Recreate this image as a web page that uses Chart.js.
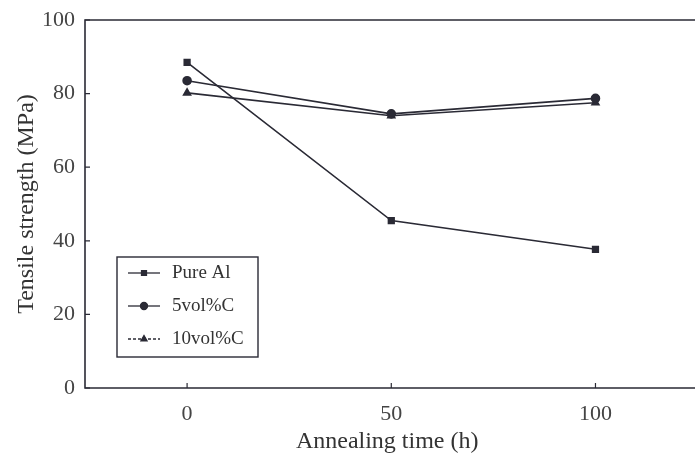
<!DOCTYPE html>
<html>
<head>
<meta charset="utf-8">
<script src="https://cdn.jsdelivr.net/npm/chart.js@4/dist/chart.umd.min.js"></script>
<style>
  html, body { margin: 0; padding: 0; background: #fff; }
  #wrap { width: 695px; height: 460px; }
</style>
</head>
<body>
<div id="wrap"><canvas id="lineChart"></canvas></div>
<script>
const times = [0, 50, 100];
const pureAl = [88.5, 45.5, 37.7];
const vol5C = [83.5, 74.5, 78.7];
const vol10C = [80.2, 74, 77.5];
const xTicks = [0, 50, 100];
const yTicks = [0, 20, 40, 60, 80, 100];

const INK = '#2a2a35';
const FONT = '"Liberation Serif", "DejaVu Serif", serif';

function pts(ys) {
  return times.map((t, i) => ({ x: t, y: ys[i] }));
}

// frame, inward tick marks and the boxed legend
const framePlugin = {
  id: 'frame',
  afterDraw(chart) {
    const ctx = chart.ctx;
    const a = chart.chartArea;
    const xs = chart.scales.x, ys = chart.scales.y;
    ctx.save();
    ctx.strokeStyle = INK;
    ctx.lineWidth = 1.6;
    ctx.beginPath();
    ctx.moveTo(chart.width, a.top);
    ctx.lineTo(a.left, a.top);
    ctx.lineTo(a.left, a.bottom);
    ctx.lineTo(chart.width, a.bottom);
    ctx.stroke();
    ctx.lineWidth = 1.2;
    ctx.beginPath();
    xTicks.forEach(v => {
      const p = xs.getPixelForValue(v);
      ctx.moveTo(p, a.bottom);
      ctx.lineTo(p, a.bottom - 5);
    });
    yTicks.forEach(v => {
      const p = ys.getPixelForValue(v);
      ctx.moveTo(a.left, p);
      ctx.lineTo(a.left + 5, p);
    });
    ctx.stroke();

    // legend
    const bx = 117, by = 257, bw = 141, bh = 100;
    ctx.lineWidth = 1.4;
    ctx.strokeRect(bx, by, bw, bh);
    ctx.font = '19px ' + FONT;
    ctx.textBaseline = 'middle';
    chart.data.datasets.forEach((ds, i) => {
      const cy = by + 16 + i * 33;
      ctx.strokeStyle = INK;
      ctx.lineWidth = 1.3;
      ctx.setLineDash(i === 2 ? [3, 2] : []);
      ctx.beginPath();
      ctx.moveTo(bx + 11, cy);
      ctx.lineTo(bx + 43, cy);
      ctx.stroke();
      ctx.setLineDash([]);
      Chart.helpers.drawPoint(ctx, {
        pointStyle: ds.pointStyle, radius: 3.5, borderWidth: 1
      }, bx + 27, cy);
      ctx.fillStyle = INK;
      ctx.fill();
      ctx.fillStyle = '#333';
      ctx.fillText(ds.label, bx + 55, cy);
    });
    ctx.restore();
  }
};

const common = {
  borderColor: INK,
  backgroundColor: INK,
  pointBorderColor: INK,
  pointBackgroundColor: INK,
  borderWidth: 1.6,
  pointRadius: 4,
  tension: 0
};

new Chart(document.getElementById('lineChart'), {
  type: 'line',
  data: {
    datasets: [
      Object.assign({ label: 'Pure Al', data: pts(pureAl), pointStyle: 'rect' }, common),
      Object.assign({ label: '5vol%C', data: pts(vol5C), pointStyle: 'circle' }, common),
      Object.assign({ label: '10vol%C', data: pts(vol10C), pointStyle: 'triangle' }, common)
    ]
  },
  options: {
    responsive: true,
    maintainAspectRatio: false,
    animation: false,
    layout: { padding: { top: 20, right: 0, left: 0, bottom: 0 } },
    plugins: { legend: { display: false }, tooltip: { enabled: false } },
    scales: {
      x: {
        type: 'linear',
        min: -25,
        max: 123,
        afterBuildTicks: s => { s.ticks = xTicks.map(v => ({ value: v })); },
        afterFit: s => { s.height = 72; s.paddingLeft = 0; s.paddingRight = 0; },
        grid: { display: false, drawTicks: false },
        border: { display: false },
        ticks: { color: '#444', padding: 13, font: { family: FONT, size: 22 } },
        title: {
          display: true, text: 'Annealing time (h)', color: '#333',
          padding: { top: 0, bottom: 4 }, font: { family: FONT, size: 24 }
        }
      },
      y: {
        min: 0,
        max: 100,
        afterBuildTicks: s => { s.ticks = yTicks.map(v => ({ value: v })); },
        afterFit: s => { s.width = 85; s.paddingTop = 0; s.paddingBottom = 0; },
        grid: { display: false, drawTicks: false },
        border: { display: false },
        ticks: { color: '#444', padding: 10, font: { family: FONT, size: 22 } },
        title: {
          display: true, text: 'Tensile strength (MPa)', color: '#333',
          padding: { top: 12, bottom: 0 }, font: { family: FONT, size: 24 }
        }
      }
    }
  },
  plugins: [framePlugin]
});
</script>
</body>
</html>
